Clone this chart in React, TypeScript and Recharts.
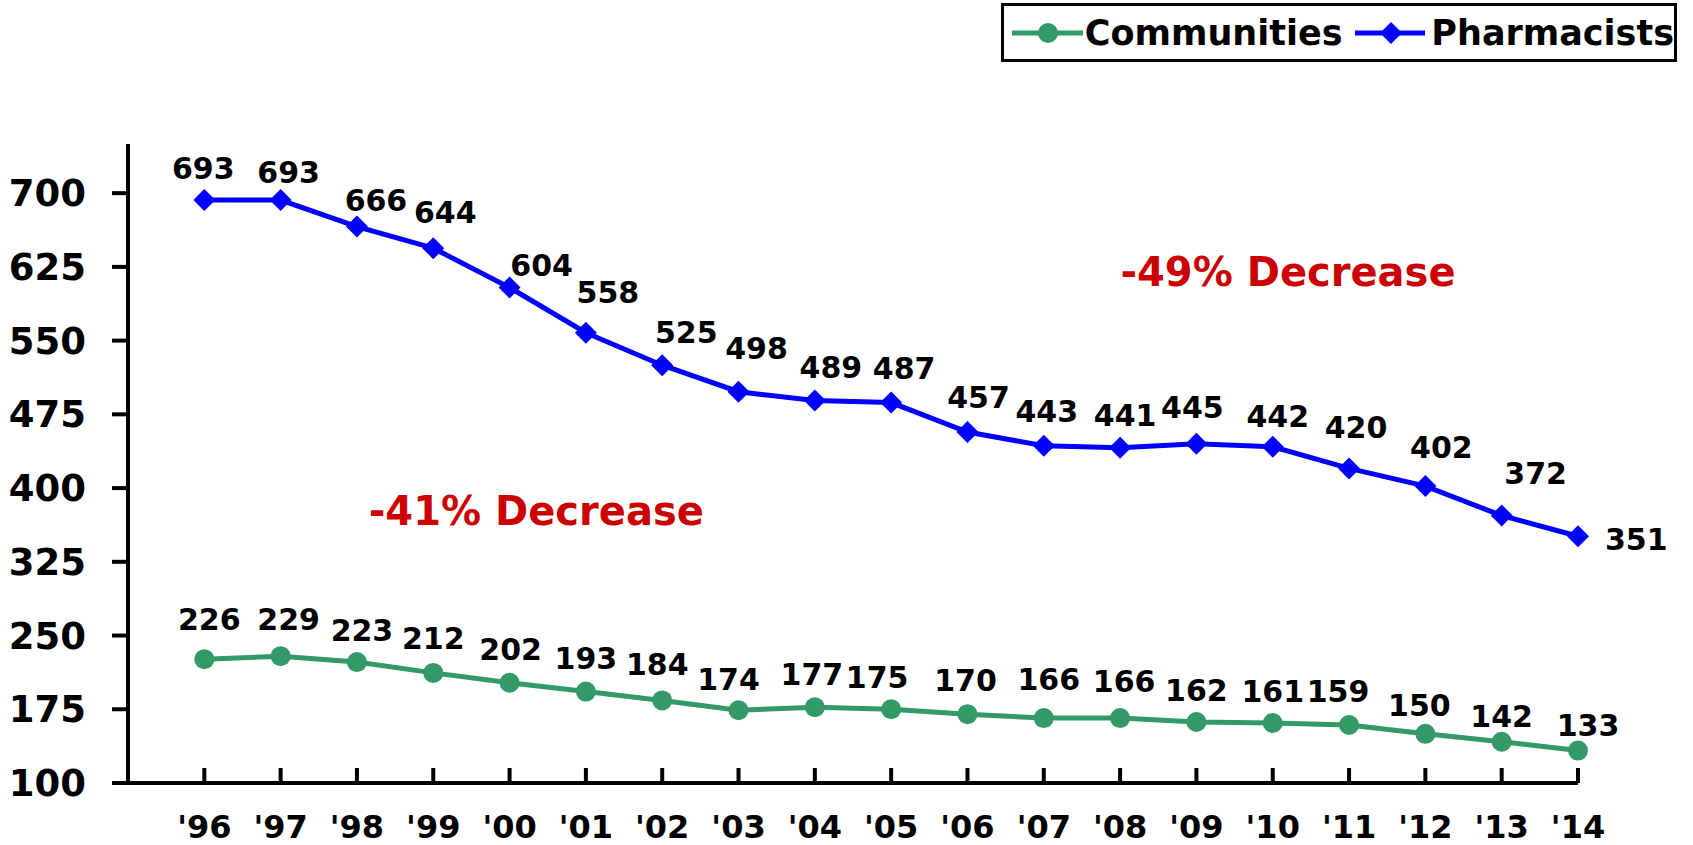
import { LineChart, Line, XAxis, YAxis, ReferenceDot } from "recharts";

const YEARS = ["'96", "'97", "'98", "'99", "'00", "'01", "'02", "'03", "'04", "'05", "'06", "'07", "'08", "'09", "'10", "'11", "'12", "'13", "'14"];
const PHARMACISTS = [693, 693, 666, 644, 604, 558, 525, 498, 489, 487, 457, 443, 441, 445, 442, 420, 402, 372, 351];
const COMMUNITIES = [226, 229, 223, 212, 202, 193, 184, 174, 177, 175, 170, 166, 166, 162, 161, 159, 150, 142, 133];
const Y_TICKS = [100, 175, 250, 325, 400, 475, 550, 625, 700];

// hand-placed label nudges (dx, dy of label centre from the point), like the original slide
const PHARM_NUDGE = [[-1, -32], [8, -28], [19, -27], [12, -36], [32, -23], [22, -41], [24, -33], [18, -44], [16, -34], [13, -35], [11, -35], [3, -35], [5, -33], [-4, -37], [5, -31], [7, -41], [16, -39], [34, -43], [0, 0]];
const COMM_NUDGE = [[5, -40], [8, -37], [5, -32], [0, -35], [1, -34], [0, -34], [-5, -36], [-10, -31], [-3, -33], [-14, -32], [-2, -34], [5, -39], [4, -37], [0, -32], [0, -32], [-11, -34], [-6, -29], [0, -26], [10, -26]];

const GREEN = '#339966';
const BLUE = '#0000ff';
const RED = '#cc0000';
const FONT = '"DejaVu Sans", Verdana, sans-serif';

const data = YEARS.map((year, i) => ({
  idx: i + 1,
  year,
  pharmacists: PHARMACISTS[i],
  communities: COMMUNITIES[i],
}));

const Diamond = (props: any) => {
  const { cx, cy } = props;
  if (cx == null || cy == null) return null;
  const r = 11;
  return <path d={`M${cx},${cy - r}L${cx + r},${cy}L${cx},${cy + r}L${cx - r},${cy}Z`} fill={BLUE} />;
};

const XTick = (props: any) => {
  const { x, y, payload } = props;
  const label = YEARS[payload.value - 1];
  return (
    <g>
      <line x1={x} y1={y} x2={x} y2={y - 15} stroke="#000" strokeWidth={4} />
      <text x={x} y={y + 55} textAnchor="middle" fontFamily={FONT} fontWeight="bold" fontSize={32} fill="#000">
        {label}
      </text>
    </g>
  );
};

const pharmLabel = (props: any) => {
  const { x, y, value, index } = props;
  if (index === PHARMACISTS.length - 1) {
    return (
      <text x={x + 27} y={y + 14} textAnchor="start" fontFamily={FONT} fontWeight="bold" fontSize={30} fill="#000">
        {value}
      </text>
    );
  }
  const [dx, dy] = PHARM_NUDGE[index];
  return (
    <text x={x + dx} y={y + dy + 11} textAnchor="middle" fontFamily={FONT} fontWeight="bold" fontSize={30} fill="#000">
      {value}
    </text>
  );
};

const commLabel = (props: any) => {
  const { x, y, value, index } = props;
  const [dx, dy] = COMM_NUDGE[index];
  return (
    <text x={x + dx} y={y + dy + 11} textAnchor="middle" fontFamily={FONT} fontWeight="bold" fontSize={30} fill="#000">
      {value}
    </text>
  );
};

const LegendBox = () => (
  <div
    style={{
      position: 'absolute',
      left: 1001,
      top: 3,
      display: 'flex',
      alignItems: 'center',
      border: '3px solid #000',
      height: 59,
      width: 676,
      boxSizing: 'border-box',
      fontFamily: FONT,
      fontWeight: 'bold',
      fontSize: 35,
      color: '#000',
      background: '#fff',
      zIndex: 2,
    }}
  >
    <svg width={76} height={24} style={{ marginLeft: 6 }}>
      <line x1={2} y1={12} x2={74} y2={12} stroke={GREEN} strokeWidth={5} />
      <circle cx={38} cy={12} r={10} fill={GREEN} />
    </svg>
    <span style={{ marginLeft: 2 }}>Communities</span>
    <svg width={76} height={26} style={{ marginLeft: 10 }}>
      <line x1={2} y1={13} x2={74} y2={13} stroke={BLUE} strokeWidth={5} />
      <path d="M38,2L49,13L38,24L27,13Z" fill={BLUE} />
    </svg>
    <span style={{ marginLeft: 6 }}>Pharmacists</span>
  </div>
);

export default function App() {
  return (
    <div style={{ position: 'fixed', left: 0, top: 0, width: 1693, height: 845, background: '#fff' }}>
      <LegendBox />
      <LineChart width={1693} height={845} data={data} margin={{ top: 144, right: 115, bottom: 0, left: 0 }}>
        <XAxis
          dataKey="idx"
          type="number"
          domain={[0, 19]}
          ticks={YEARS.map((_, i) => i + 1)}
          interval={0}
          height={62}
          tickSize={0}
          tickMargin={0}
          tickLine={false}
          tick={<XTick />}
          axisLine={{ stroke: '#000', strokeWidth: 4 }}
        />
        <YAxis
          domain={[100, 750]}
          ticks={Y_TICKS}
          interval={0}
          width={128}
          tickSize={16}
          tickMargin={26}
          tickLine={{ stroke: '#000', strokeWidth: 4 }}
          axisLine={{ stroke: '#000', strokeWidth: 4 }}
          tick={{ fill: '#000', fontFamily: FONT, fontWeight: 'bold', fontSize: 37 }}
          allowDataOverflow
        />
        <Line
          dataKey="communities"
          name="Communities"
          stroke={GREEN}
          strokeWidth={5}
          dot={{ r: 10, fill: GREEN, stroke: GREEN, strokeWidth: 0 }}
          label={commLabel}
          isAnimationActive={false}
        />
        <Line
          dataKey="pharmacists"
          name="Pharmacists"
          stroke={BLUE}
          strokeWidth={5}
          dot={<Diamond />}
          label={pharmLabel}
          isAnimationActive={false}
        />
        <ReferenceDot
          x={15.2}
          y={620}
          r={0}
          fill="none"
          stroke="none"
          label={{ value: '-49% Decrease', position: 'center', fill: RED, fontFamily: FONT, fontWeight: 'bold', fontSize: 40 }}
        />
        <ReferenceDot
          x={5.35}
          y={377}
          r={0}
          fill="none"
          stroke="none"
          label={{ value: '-41% Decrease', position: 'center', fill: RED, fontFamily: FONT, fontWeight: 'bold', fontSize: 40 }}
        />
      </LineChart>
    </div>
  );
}
